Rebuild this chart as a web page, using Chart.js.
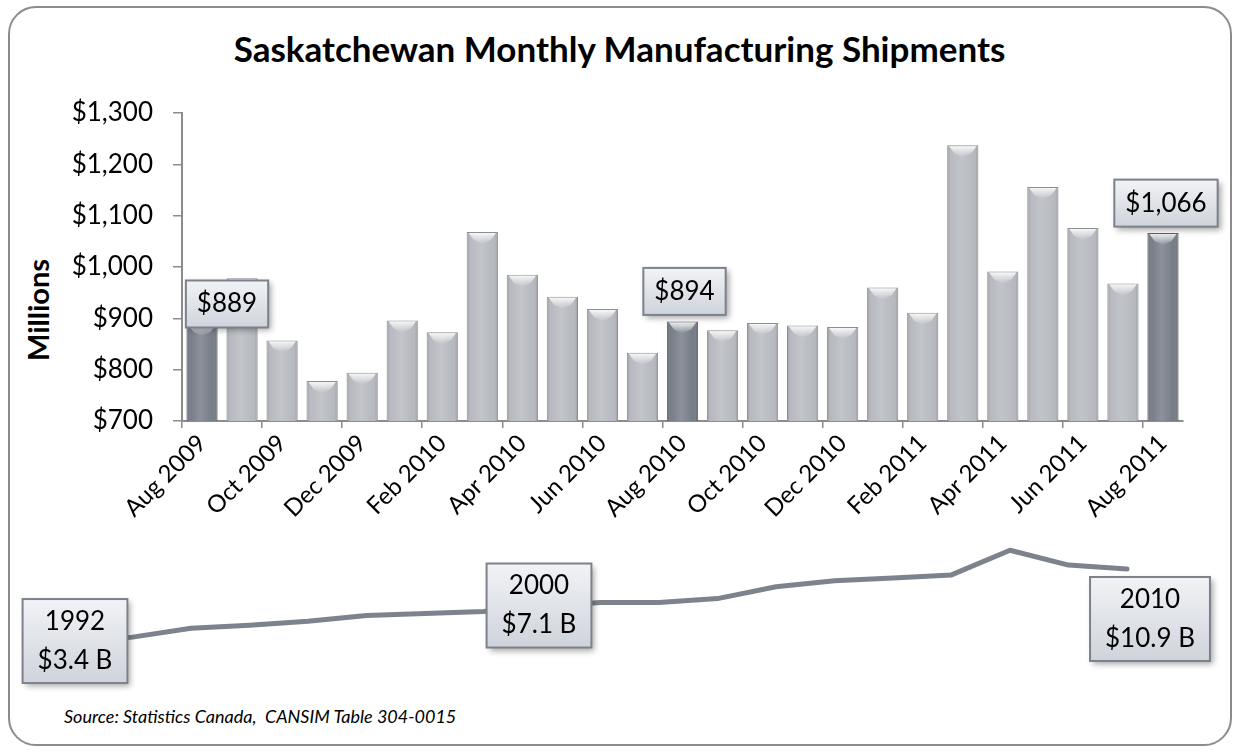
<!DOCTYPE html>
<html>
<head>
<meta charset="utf-8">
<script src="https://cdn.jsdelivr.net/npm/chart.js@4.4.0/dist/chart.umd.min.js"></script>
<style>
html,body{margin:0;padding:0;background:#fff;}
#wrap{position:relative;width:1239px;height:752px;overflow:hidden;font-family:Lato,'Open Sans',sans-serif;color:#000;}
#frame{position:absolute;left:8px;top:6px;width:1224px;height:740px;border:2px solid #8c8c8c;border-radius:28px;box-sizing:border-box;}
#title{position:absolute;left:0;top:27px;width:1239px;text-align:center;font-weight:700;font-size:35px;line-height:42px;white-space:nowrap;}
#ytitle{position:absolute;left:38px;top:310px;transform:translate(-50%,-50%) rotate(-90deg);font-weight:700;font-size:29px;line-height:32px;white-space:nowrap;}
#source{position:absolute;left:64px;top:705px;font-style:italic;font-size:18px;line-height:22px;white-space:nowrap;}
canvas{position:absolute;left:0;}
#bars{top:0;}
#annual{top:528px;}
</style>
</head>
<body>
<div id="wrap">
  <div id="frame"></div>
  <div id="title">Saskatchewan Monthly Manufacturing Shipments</div>
  <div id="ytitle">Millions</div>
  <canvas id="bars" width="1239" height="545"></canvas>
  <canvas id="annual" width="1239" height="172"></canvas>
  <div id="source">Source: Statistics Canada,&nbsp; CANSIM Table 304-0015</div>
</div>
<script>
// ---------- data ----------
const months = ['Aug 2009','Sep 2009','Oct 2009','Nov 2009','Dec 2009','Jan 2010','Feb 2010','Mar 2010','Apr 2010','May 2010','Jun 2010','Jul 2010','Aug 2010','Sep 2010','Oct 2010','Nov 2010','Dec 2010','Jan 2011','Feb 2011','Mar 2011','Apr 2011','May 2011','Jun 2011','Jul 2011','Aug 2011'];
const shipments = [889,978,857,778,794,896,873,1068,985,942,918,833,894,877,891,886,883,960,911,1237,991,1156,1076,968,1066];
const yTicks = [700,800,900,1000,1100,1200,1300];
const highlightedMonths = [0,12,24];
const years = [1992,1993,1994,1995,1996,1997,1998,1999,2000,2001,2002,2003,2004,2005,2006,2007,2008,2009,2010];
const annualBillions = [3.4,4.0,4.9,5.2,5.6,6.2,6.4,6.6,7.1,7.5,7.5,7.9,9.1,9.7,10.0,10.3,12.8,11.3,10.9];
const highlightedYears = [1992,2000,2010];

Chart.defaults.font.family = 'Lato';
Chart.defaults.color = '#000';

function drawCallout(ctx, cx, cy, lines, fontSize, padX, h, lineGap) {
  ctx.save();
  ctx.font = fontSize + 'px Lato';
  let tw = 0;
  lines.forEach(t => { tw = Math.max(tw, ctx.measureText(t).width); });
  const w = tw + padX * 2;
  const x = cx - w / 2, y = cy - h / 2;
  ctx.shadowColor = 'rgba(0,0,0,0.35)';
  ctx.shadowBlur = 6;
  ctx.shadowOffsetX = 3;
  ctx.shadowOffsetY = 3;
  const g = ctx.createLinearGradient(0, y, 0, y + h);
  g.addColorStop(0, '#f1f3f6');
  g.addColorStop(1, '#cfd3db');
  ctx.fillStyle = g;
  ctx.fillRect(x, y, w, h);
  ctx.shadowColor = 'transparent';
  ctx.strokeStyle = '#7c828c';
  ctx.lineWidth = 2;
  ctx.strokeRect(x, y, w, h);
  ctx.fillStyle = '#000';
  ctx.textAlign = 'center';
  ctx.textBaseline = 'middle';
  const n = lines.length;
  lines.forEach((t, k) => {
    ctx.fillText(t, cx, cy + (k - (n - 1) / 2) * lineGap);
  });
  ctx.restore();
}

// bar shading plugin
const bevelPlugin = {
  id: 'bevel',
  afterDatasetsDraw(chart) {
    const ctx = chart.ctx;
    const area = chart.chartArea;
    const meta = chart.getDatasetMeta(0);
    meta.data.forEach((bar) => {
      const p = bar.getProps(['x','y','base','width'], true);
      const base = Math.min(p.base, area.bottom);
      const l = p.x - p.width / 2, r = p.x + p.width / 2;
      ctx.save();
      ctx.beginPath();
      ctx.rect(area.left, area.top - 20, area.right - area.left, area.bottom - area.top + 20);
      ctx.clip();
      const g = ctx.createLinearGradient(l, 0, r, 0);
      g.addColorStop(0, 'rgba(0,0,0,0.20)');
      g.addColorStop(0.15, 'rgba(255,255,255,0.02)');
      g.addColorStop(0.45, 'rgba(255,255,255,0.16)');
      g.addColorStop(0.85, 'rgba(255,255,255,0.0)');
      g.addColorStop(1, 'rgba(0,0,0,0.25)');
      ctx.fillStyle = g;
      ctx.fillRect(l + 1, p.y + 1, p.width - 2, base - p.y - 1);
      // top cap highlight
      ctx.beginPath();
      ctx.moveTo(l + 2, p.y + 1);
      ctx.lineTo(r - 2, p.y + 1);
      ctx.lineTo(r - 7, p.y + 8);
      ctx.lineTo(p.x, p.y + 12);
      ctx.lineTo(l + 7, p.y + 8);
      ctx.closePath();
      const cg = ctx.createLinearGradient(0, p.y, 0, p.y + 12);
      cg.addColorStop(0, 'rgba(255,255,255,0.95)');
      cg.addColorStop(1, 'rgba(255,255,255,0.0)');
      ctx.fillStyle = cg;
      ctx.fill();
      ctx.restore();
    });
  }
};

const barCalloutPlugin = {
  id: 'barCallouts',
  afterDraw(chart) {
    const ctx = chart.ctx;
    const meta = chart.getDatasetMeta(0);
    const offsets = {0: [25, -20], 12: [2, -30], 24: [3, -30]};
    highlightedMonths.forEach(i => {
      const bar = meta.data[i];
      const p = bar.getProps(['x','y'], true);
      const o = offsets[i];
      drawCallout(ctx, p.x + o[0], p.y + o[1], ['$' + shipments[i].toLocaleString('en-US')], 26, 11, 47, 0);
    });
  }
};

new Chart(document.getElementById('bars'), {
  type: 'bar',
  data: {
    labels: months,
    datasets: [{
      data: shipments,
      backgroundColor: ctx => highlightedMonths.includes(ctx.dataIndex) ? '#767c86' : '#b6b9bf',
      borderColor: ctx => highlightedMonths.includes(ctx.dataIndex) ? '#5d626b' : '#8b8e94',
      borderWidth: 1,
      barPercentage: 0.78,
      categoryPercentage: 1.0
    }]
  },
  options: {
    responsive: false,
    animation: false,
    events: [],
    layout: { padding: { left: 0, top: 113, right: 56, bottom: 14 } },
    plugins: { legend: { display: false }, tooltip: { enabled: false }, title: { display: false } },
    scales: {
      x: {
        type: 'category',
        offset: true,
        grid: {
          offset: true,
          drawOnChartArea: false,
          drawTicks: true,
          tickLength: 7,
          lineWidth: 1.5,
          color: ctx => (ctx.index !== undefined && ctx.index % 2 === 0) ? '#8c8c8c' : 'rgba(0,0,0,0)'
        },
        border: { color: '#8c8c8c', width: 2 },
        ticks: {
          autoSkip: false,
          minRotation: 45,
          maxRotation: 45,
          padding: 1,
          font: { size: 24 },
          color: '#000',
          callback: (v, i) => (i % 2 === 0 ? months[i] : '')
        },
        afterFit: s => { s.height = 110; }
      },
      y: {
        min: yTicks[0],
        max: yTicks[yTicks.length - 1],
        afterBuildTicks: s => { s.ticks = yTicks.map(v => ({ value: v })); },
        grid: { drawOnChartArea: false, tickLength: 9, color: '#8c8c8c', lineWidth: 1.5 },
        border: { color: '#8c8c8c', width: 2 },
        ticks: {
          padding: 20,
          font: { size: 26 },
          color: '#000',
          callback: v => '$' + Number(v).toLocaleString('en-US')
        },
        afterFit: s => { s.width = 182; }
      }
    }
  },
  plugins: [bevelPlugin, barCalloutPlugin]
});

// ---------- annual line ----------
const lineCalloutPlugin = {
  id: 'lineCallouts',
  afterDraw(chart) {
    const ctx = chart.ctx;
    const xs = chart.scales.x, ys = chart.scales.y;
    const offsets = {1992: [1, -2], 2000: [-3, -1], 2010: [23, 50]};
    highlightedYears.forEach(yr => {
      const i = years.indexOf(yr);
      const px = xs.getPixelForValue(yr), py = ys.getPixelForValue(annualBillions[i]);
      const o = offsets[yr];
      drawCallout(ctx, px + o[0], py + o[1], [String(yr), '$' + annualBillions[i].toFixed(1) + ' B'], 26, 15, 84, 39);
    });
  }
};

new Chart(document.getElementById('annual'), {
  type: 'line',
  data: {
    datasets: [{
      data: years.map((yr, i) => ({ x: yr, y: annualBillions[i] })),
      borderColor: '#7d838c',
      borderWidth: 5,
      pointRadius: 0,
      tension: 0,
      clip: false,
      borderJoinStyle: 'round',
      borderCapStyle: 'round'
    }]
  },
  options: {
    responsive: false,
    animation: false,
    events: [],
    layout: { padding: { left: 74, right: 112, top: 10.4, bottom: 23.4 } },
    plugins: { legend: { display: false }, tooltip: { enabled: false } },
    scales: {
      x: { type: 'linear', min: years[0], max: years[years.length - 1], display: false },
      y: { type: 'linear', min: 0, max: 14, display: false }
    }
  },
  plugins: [lineCalloutPlugin]
});
</script>
</body>
</html>
